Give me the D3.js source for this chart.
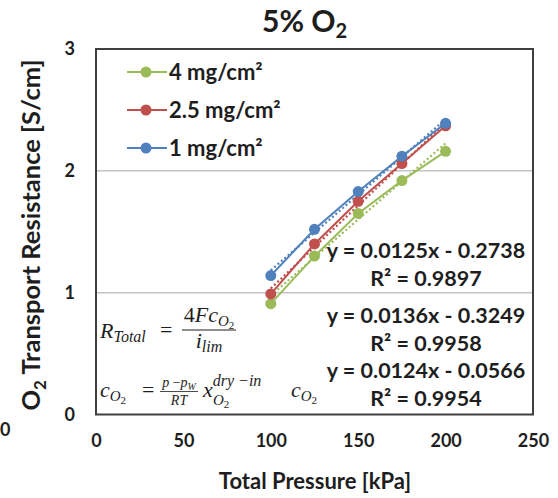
<!DOCTYPE html>
<html>
<head>
<meta charset="utf-8">
<script src="https://cdn.jsdelivr.net/npm/d3@7"></script>
<style>
  html, body { margin: 0; padding: 0; background: #fff; }
  svg { display: block; }
</style>
</head>
<body>
<svg id="chart" width="558" height="498" font-family="Lato, 'Open Sans', sans-serif"></svg>
<script>
// Measured O2 transport resistance at 5% O2 for three Pt loadings
const pressure = [100, 125, 150, 175, 200];
const loadings = ["4 mg/cm²", "2.5 mg/cm²", "1 mg/cm²"];
const res4mg  = [0.91, 1.30, 1.65, 1.92, 2.16];
const res25mg = [0.99, 1.40, 1.75, 2.06, 2.37];
const res1mg  = [1.14, 1.52, 1.83, 2.12, 2.39];
const colors  = ["#9BBB59", "#C0504D", "#4F81BD"];

// Linear trendlines (slope, intercept) and R² for each loading
const fitSlope     = [0.0125, 0.0136, 0.0124];
const fitIntercept = [-0.2738, -0.3249, -0.0566];
const fitR2        = ["0.9897", "0.9958", "0.9954"];

const xTicks = [0, 50, 100, 150, 200, 250];
const yTicks = [0, 1, 2, 3];

const series = [res4mg, res25mg, res1mg].map((vals, i) => ({
  name: loadings[i],
  color: colors[i],
  points: pressure.map((p, j) => ({ x: p, y: vals[j] })),
  slope: fitSlope[i],
  intercept: fitIntercept[i],
  r2: fitR2[i]
}));

const ink = "#1e1e1e";
const svg = d3.select("#chart");
const plot = { left: 96, right: 533, top: 49, bottom: 414.5 };

const x = d3.scaleLinear().domain([0, 250]).range([plot.left, plot.right]);
const y = d3.scaleLinear().domain([0, 3]).range([plot.bottom, plot.top]);

// horizontal gridlines
svg.append("g").selectAll("line")
  .data(yTicks.filter(t => t > 0 && t < 3))
  .join("line")
  .attr("x1", plot.left).attr("x2", plot.right)
  .attr("y1", d => y(d)).attr("y2", d => y(d))
  .attr("stroke", "#c4c4c4").attr("stroke-width", 1.5);

// axes (labels only)
const xAxis = svg.append("g")
  .attr("transform", `translate(0,${plot.bottom})`)
  .call(d3.axisBottom(x).tickValues(xTicks).tickFormat(d3.format("d"))
    .tickSize(0).tickPadding(20));
const yAxis = svg.append("g")
  .attr("transform", `translate(${plot.left},0)`)
  .call(d3.axisLeft(y).tickValues(yTicks).tickFormat(d3.format("d"))
    .tickSize(0).tickPadding(21));
[xAxis, yAxis].forEach(a => {
  a.select(".domain").remove();
  a.selectAll("text")
    .attr("font-family", "Lato, sans-serif")
    .attr("font-size", 18).attr("font-weight", "bold").attr("fill", ink);
});

// plot frame
svg.append("rect")
  .attr("x", plot.left).attr("y", plot.top)
  .attr("width", plot.right - plot.left).attr("height", plot.bottom - plot.top)
  .attr("fill", "none").attr("stroke", "#3f3f3f").attr("stroke-width", 2);

// dotted linear trendlines
const line = d3.line().x(d => x(d.x)).y(d => y(d.y));
svg.append("g").selectAll("path")
  .data(series)
  .join("path")
  .attr("d", s => line([pressure[0], pressure[pressure.length - 1]]
    .map(p => ({ x: p, y: s.slope * p + s.intercept }))))
  .attr("fill", "none")
  .attr("stroke", s => s.color)
  .attr("stroke-width", 2.2)
  .attr("stroke-dasharray", "2,2.5");

// data lines and markers
const sg = svg.append("g").selectAll("g").data(series).join("g");
sg.append("path")
  .attr("d", s => line(s.points))
  .attr("fill", "none").attr("stroke", s => s.color).attr("stroke-width", 2);
sg.selectAll("circle").data(s => s.points.map(p => ({ ...p, color: s.color })))
  .join("circle")
  .attr("cx", d => x(d.x)).attr("cy", d => y(d.y)).attr("r", 5.5)
  .attr("fill", d => d.color);

// legend
const legend = svg.append("g").selectAll("g").data(series).join("g")
  .attr("transform", (d, i) => `translate(127,${72 + i * 38})`);
legend.append("line").attr("x1", 0).attr("x2", 40)
  .attr("stroke", d => d.color).attr("stroke-width", 2);
legend.append("circle").attr("cx", 19).attr("r", 5.5).attr("fill", d => d.color);
legend.append("text").attr("x", 42).attr("dy", "0.36em")
  .attr("font-size", 22).attr("font-weight", "bold").attr("fill", ink)
  .text(d => d.name);

// trendline equations
const eqY = [250, 315, 370];
const eqText = svg.append("g").attr("font-size", 21.5).attr("font-weight", "bold")
  .attr("fill", ink).attr("text-anchor", "middle");
series.forEach((s, i) => {
  const sign = s.intercept < 0 ? "-" : "+";
  eqText.append("text").attr("x", 426).attr("y", eqY[i]).attr("dy", "0.36em")
    .text(`y = ${s.slope}x ${sign} ${Math.abs(s.intercept).toFixed(4)}`);
  eqText.append("text").attr("x", 426).attr("y", eqY[i] + 28).attr("dy", "0.36em")
    .text(`R² = ${s.r2}`);
});

// model equations
const f = svg.append("g")
  .attr("font-family", "'Liberation Serif', 'DejaVu Serif', serif").attr("fill", ink);
const t1 = f.append("text").attr("x", 100).attr("y", 338).attr("font-size", 22);
t1.append("tspan").attr("font-style", "italic").text("R");
t1.append("tspan").attr("font-style", "italic").attr("font-size", 16).attr("dy", 4).text("Total");
f.append("text").attr("x", 160).attr("y", 337).attr("font-size", 22).text("=");
const num1 = f.append("text").attr("x", 209).attr("y", 322).attr("font-size", 22)
  .attr("text-anchor", "middle");
num1.append("tspan").text("4");
num1.append("tspan").attr("font-style", "italic").text("Fc");
num1.append("tspan").attr("font-style", "italic").attr("font-size", 15).attr("dy", 4).text("O");
num1.append("tspan").attr("font-size", 11).attr("dy", 3).text("2");
f.append("line").attr("x1", 182).attr("x2", 236).attr("y1", 330).attr("y2", 330)
  .attr("stroke", ink).attr("stroke-width", 1);
const den1 = f.append("text").attr("x", 209).attr("y", 348).attr("font-size", 22)
  .attr("text-anchor", "middle");
den1.append("tspan").attr("font-style", "italic").text("i");
den1.append("tspan").attr("font-style", "italic").attr("font-size", 16).attr("dy", 4).text("lim");

const t2 = f.append("text").attr("x", 100).attr("y", 397).attr("font-size", 22);
t2.append("tspan").attr("font-style", "italic").text("c");
t2.append("tspan").attr("font-style", "italic").attr("font-size", 15).attr("dy", 4).text("O");
t2.append("tspan").attr("font-size", 11).attr("dy", 3).text("2");
f.append("text").attr("x", 142).attr("y", 397).attr("font-size", 22).text("=");
const num2 = f.append("text").attr("x", 179).attr("y", 387).attr("font-size", 14)
  .attr("text-anchor", "middle");
num2.append("tspan").attr("font-style", "italic").text("p");
num2.append("tspan").text(" \u2212");
num2.append("tspan").attr("font-style", "italic").text("p");
num2.append("tspan").attr("font-style", "italic").attr("font-size", 10).attr("dy", 3).text("W");
f.append("line").attr("x1", 160).attr("x2", 198).attr("y1", 391.5).attr("y2", 391.5)
  .attr("stroke", ink).attr("stroke-width", 0.8);
f.append("text").attr("x", 179).attr("y", 405).attr("font-size", 14)
  .attr("text-anchor", "middle").attr("font-style", "italic").text("RT");
const t3 = f.append("text").attr("x", 203).attr("y", 397).attr("font-size", 22);
t3.append("tspan").attr("font-style", "italic").text("x");
t3.append("tspan").attr("font-style", "italic").attr("font-size", 16).attr("dy", -11).text("dry \u2212in");
const t3b = f.append("text").attr("x", 213).attr("y", 405).attr("font-size", 15);
t3b.append("tspan").attr("font-style", "italic").text("O");
t3b.append("tspan").attr("font-size", 11).attr("dy", 3).text("2");
const t4 = f.append("text").attr("x", 291).attr("y", 397).attr("font-size", 22);
t4.append("tspan").attr("font-style", "italic").text("c");
t4.append("tspan").attr("font-style", "italic").attr("font-size", 15).attr("dy", 4).text("O");
t4.append("tspan").attr("font-size", 11).attr("dy", 3).text("2");

// title
const title = svg.append("text").attr("x", 262).attr("y", 32)
  .attr("font-size", 30).attr("font-weight", "bold").attr("fill", ink);
title.append("tspan").text("5% O");
title.append("tspan").attr("font-size", 20).attr("dy", 6).text("2");

// axis titles
svg.append("text").attr("x", 315).attr("y", 489).attr("text-anchor", "middle")
  .attr("font-size", 22).attr("font-weight", "bold").attr("fill", ink)
  .text("Total Pressure [kPa]");
const yt = svg.append("text")
  .attr("transform", "translate(40,235) rotate(-90)")
  .attr("text-anchor", "middle")
  .attr("font-size", 25.5).attr("font-weight", "bold").attr("fill", ink);
yt.append("tspan").text("O");
yt.append("tspan").attr("font-size", 17).attr("dy", 6).text("2");
yt.append("tspan").attr("dy", -6).text(" Transport Resistance [S/cm]");

// stray tick label at the far left
svg.append("text").attr("x", 0).attr("y", 436)
  .attr("font-size", 18).attr("font-weight", "bold").attr("fill", ink).text("0");
</script>
</body>
</html>
